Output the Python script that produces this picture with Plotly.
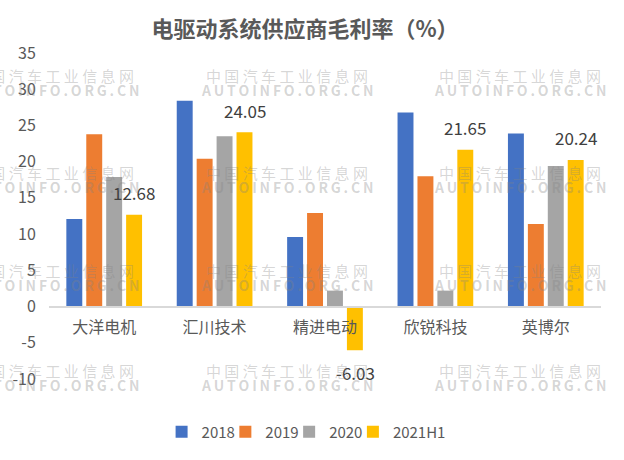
import plotly.graph_objects as go

categories = ["大洋电机", "汇川技术", "精进电动", "欣锐科技", "英博尔"]
series_names = ["2018", "2019", "2020", "2021H1"]
v2018 = [12.1, 28.4, 9.6, 26.8, 23.9]
v2019 = [23.8, 20.4, 12.9, 18.0, 11.4]
v2020 = [17.9, 23.5, 2.2, 2.2, 19.4]
v2021h1 = [12.68, 24.05, -6.03, 21.65, 20.24]
colors = ["#4472C4", "#ED7D31", "#A5A5A5", "#FFC000"]
ytick_vals = [-10, -5, 0, 5, 10, 15, 20, 25, 30, 35]
ytick_text = ["-10", "-5", "0", "5", "10", "15", "20", "25", "30", "35"]
title_text = "电驱动系统供应商毛利率（%）"
wm_cn = "中 国 汽 车 工 业 信 息 网"
wm_en = "A\u2009U\u2009T\u2009O\u2009I\u2009N\u2009F\u2009O\u2009.\u2009O\u2009R\u2009G\u2009.\u2009C\u2009N"

FONT = "Noto Sans CJK SC, Microsoft YaHei, sans-serif"
TXT = "#595959"

W, H = 624, 460
ML, MR, MT, MB = 47, 23, 53, 81
PW, PH = W - ML - MR, H - MT - MB

def px_to_paper(xp, yp):
    return (xp - ML) / PW, (MT + PH - yp) / PH

legend_ids = ["legend", "legend2", "legend3", "legend4"]
legend_symbol_px = [181, 245, 309, 373]   # layout: symbol centres in pixels

fig = go.Figure()
for name, vals, col, lid in zip(series_names, [v2018, v2019, v2020, v2021h1], colors, legend_ids):
    fig.add_trace(go.Bar(name=name, x=categories, y=vals, marker_color=col,
                         marker_line_width=0, hoverinfo="x+y+name", legend=lid))

ymin, ymax = -10, 35
annotations = []
# data labels for 2021H1
for c, v in zip(categories, v2021h1):
    annotations.append(dict(x=c, y=v, xref="x", yref="y", text=f"{v:.2f}",
                            showarrow=False, xshift=30, yshift=22 if v >= 0 else -22,
                            font=dict(family=FONT, size=17, color="#404040"),
                            xanchor="center", yanchor="middle"))

# watermark grid
for row_y in [75, 172, 270, 370]:
    for col_x in [51, 286, 520]:
        px, py = px_to_paper(col_x, row_y)
        annotations.append(dict(x=px, y=py, xref="paper", yref="paper", text=wm_cn,
                                showarrow=False, xanchor="center", yanchor="middle",
                                font=dict(family=FONT, size=15, color="rgba(130,130,130,0.32)")))
        px, py = px_to_paper(col_x, row_y + 15)
        annotations.append(dict(x=px, y=py, xref="paper", yref="paper", text="<b>" + wm_en + "</b>",
                                showarrow=False, xanchor="center", yanchor="middle",
                                font=dict(family=FONT, size=14, color="rgba(130,130,130,0.32)")))

legend_layouts = {}
for lid, sx in zip(legend_ids, legend_symbol_px):
    lx, ly = px_to_paper(sx - 21, 432)
    legend_layouts[lid] = dict(orientation="h", x=lx, xanchor="left", y=ly, yanchor="middle",
                               font=dict(family=FONT, size=15, color=TXT),
                               itemwidth=30, bgcolor="rgba(0,0,0,0)", borderwidth=0)

fig.update_layout(
    width=W, height=H,
    margin=dict(l=ML, r=MR, t=MT, b=MB, pad=0),
    paper_bgcolor="white", plot_bgcolor="white",
    barmode="group", bargap=0.278, bargroupgap=0.2,
    title=dict(text="<b>" + title_text + "</b>", x=305 / W, xref="container", xanchor="center",
               y=1 - 29 / H, yref="container", yanchor="middle",
               font=dict(family=FONT, size=22, color=TXT)),
    font=dict(family=FONT, color=TXT),
    xaxis=dict(anchor="free", position=(0 - ymin) / (ymax - ymin),
               showline=True, linecolor="#D9D9D9", linewidth=1.5,
               ticks="outside", ticklen=6, tickcolor="rgba(0,0,0,0)",
               tickfont=dict(family=FONT, size=16, color=TXT), showgrid=False),
    yaxis=dict(range=[ymin, ymax], tickvals=ytick_vals, ticktext=ytick_text,
               showgrid=False, zeroline=False, showline=False,
               ticks="outside", ticklen=9, tickcolor="rgba(0,0,0,0)",
               tickfont=dict(family=FONT, size=16, color=TXT)),
    annotations=annotations,
    showlegend=True,
    **legend_layouts,
)

fig.write_html("out.html", config={"displayModeBar": False},
               post_script="document.body.style.margin='0';document.body.style.overflow='hidden';")
